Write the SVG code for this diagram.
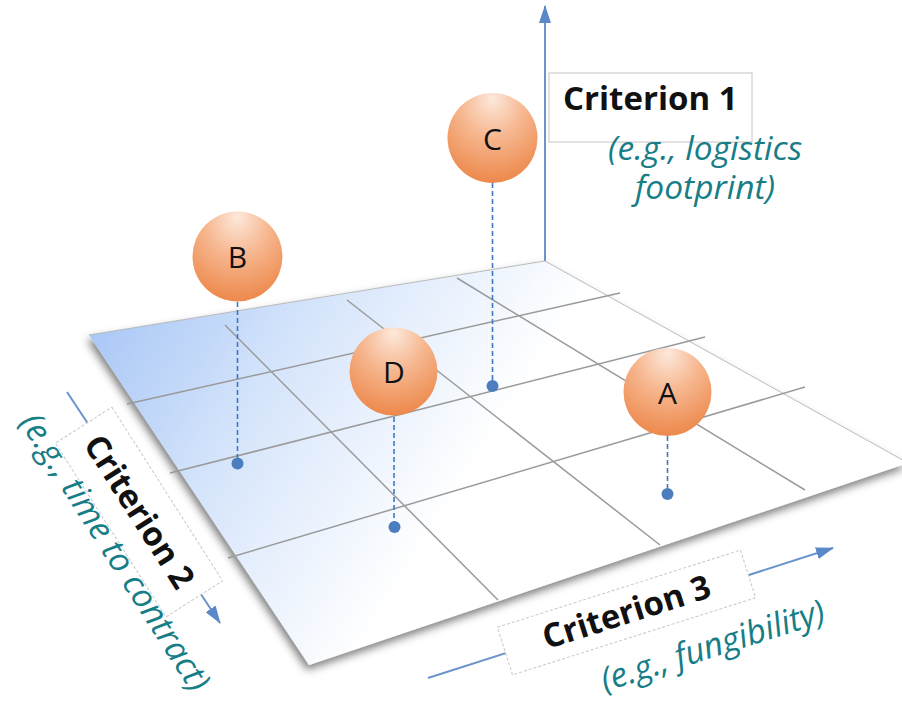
<svg xmlns="http://www.w3.org/2000/svg" width="902" height="702" viewBox="0 0 902 702">
  <defs>
    <style>
      .axis { stroke: #6b93cc; stroke-width: 2; fill: none; }
      .grid { stroke: #9a9a9a; stroke-width: 1.5; fill: none; }
      .drop { stroke: #4178c0; stroke-width: 1.6; stroke-dasharray: 5 3; fill: none; }
      .dot { fill: #4a7ebf; }
      .ball { fill: url(#ballFill); }
      .letter { font-family: "Open Sans", "Liberation Sans", sans-serif; font-size: 30px; fill: #111; text-anchor: middle; }
      .title { font-family: "Open Sans", "Liberation Sans", sans-serif; font-weight: bold; font-size: 33px; fill: #111; }
      .note { font-family: "Open Sans", "Liberation Sans", sans-serif; font-style: italic; font-size: 33.5px; fill: #177d86; }
      .box { fill: #ffffff; stroke: #c4c4c4; stroke-width: 1; }
      .boxdash { fill: #ffffff; stroke: #c8c8c8; stroke-width: 1; stroke-dasharray: 3 2; }
    </style>
    <linearGradient id="planeFill" gradientUnits="userSpaceOnUse" x1="95" y1="330" x2="430" y2="540">
      <stop offset="0" stop-color="#aac8f6"/>
      <stop offset="0.45" stop-color="#d6e5fb"/>
      <stop offset="1" stop-color="#ffffff"/>
    </linearGradient>
    <radialGradient id="ballFill" cx="0.5" cy="0.25" r="0.8" fx="0.5" fy="0.05">
      <stop offset="0" stop-color="#fde9dc"/>
      <stop offset="0.45" stop-color="#f6b68e"/>
      <stop offset="1" stop-color="#ec8445"/>
    </radialGradient>
    <filter id="planeShadow" x="-10%" y="-10%" width="120%" height="130%">
      <feDropShadow dx="-2" dy="5" stdDeviation="4" flood-color="#000" flood-opacity="0.5"/>
    </filter>
    <marker id="arrow" viewBox="0 0 18 12" refX="17" refY="6" markerWidth="18" markerHeight="12" markerUnits="userSpaceOnUse" orient="auto">
      <path d="M0,0 L18,6 L0,12 z" fill="#5a88c8"/>
    </marker>
  </defs>

  <rect width="902" height="702" fill="#ffffff"/>

  <!-- axes -->
  <g id="axes">
    <line class="axis" x1="545" y1="261" x2="545" y2="6" marker-end="url(#arrow)"/>
    <line class="axis" x1="67" y1="392" x2="220" y2="623" marker-end="url(#arrow)"/>
    <line class="axis" x1="428" y1="678" x2="833" y2="548" marker-end="url(#arrow)"/>
  </g>

  <!-- ground plane with grid -->
  <g id="plane">
    <polygon points="89,335 545,261 908,463 309,665" fill="url(#planeFill)" filter="url(#planeShadow)"/>
    <polyline points="89,335 545,261 908,463" fill="none" stroke="#b4b4b4" stroke-width="0.9"/>
    <line class="grid" x1="127" y1="404" x2="620" y2="293"/>
    <line class="grid" x1="170" y1="473" x2="705" y2="337"/>
    <line class="grid" x1="228" y1="558" x2="805" y2="387"/>
    <line class="grid" x1="225" y1="325" x2="498" y2="600"/>
    <line class="grid" x1="347" y1="300" x2="660" y2="545"/>
    <line class="grid" x1="457" y1="278" x2="805" y2="490"/>
  </g>

  <!-- drop lines from each item to its footprint -->
  <g id="connectors">
    <line class="drop" x1="237.5" y1="302" x2="237.5" y2="463"/>
    <line class="drop" x1="492.5" y1="183" x2="492.5" y2="386"/>
    <line class="drop" x1="394" y1="417" x2="394" y2="527"/>
    <line class="drop" x1="667.5" y1="436" x2="667.5" y2="494"/>
    <circle class="dot" cx="237.5" cy="463.5" r="6"/>
    <circle class="dot" cx="492.5" cy="386" r="6"/>
    <circle class="dot" cx="394.5" cy="527" r="6"/>
    <circle class="dot" cx="667.5" cy="494" r="6"/>
  </g>

  <g id="node-B">
    <circle class="ball" cx="237.5" cy="256.5" r="45"/>
    <text class="letter" x="237.5" y="268">B</text>
  </g>
  <g id="node-C">
    <circle class="ball" cx="492.5" cy="138" r="45"/>
    <text class="letter" x="492.5" y="150">C</text>
  </g>
  <g id="node-D">
    <circle class="ball" cx="393.5" cy="371.5" r="44"/>
    <text class="letter" x="394" y="383">D</text>
  </g>
  <g id="node-A">
    <circle class="ball" cx="667.5" cy="392" r="44"/>
    <text class="letter" x="667.5" y="404">A</text>
  </g>

  <!-- axis labels -->
  <g id="label-criterion-1">
    <rect class="box" x="549" y="73" width="203" height="69"/>
    <text class="title" x="563" y="110">Criterion 1</text>
    <text class="note" x="705" y="160" text-anchor="middle">(e.g., logistics</text>
    <text class="note" x="705" y="199" text-anchor="middle">footprint)</text>
  </g>

  <g id="label-criterion-2" transform="translate(139,512) rotate(57.5)">
    <rect class="boxdash" x="-103" y="-33.5" width="206" height="67"/>
    <text class="title" x="0" y="11" text-anchor="middle">Criterion 2</text>
    <text class="note" x="21" y="53" text-anchor="middle">(e.g., time to contract)</text>
  </g>

  <g id="label-criterion-3" transform="translate(626.5,612.5) rotate(-17.6)">
    <rect class="boxdash" x="-127.5" y="-25" width="255" height="50"/>
    <text class="title" x="0" y="11" text-anchor="middle">Criterion 3</text>
    <text class="note" x="72" y="69" text-anchor="middle">(e.g., fungibility)</text>
  </g>
</svg>
